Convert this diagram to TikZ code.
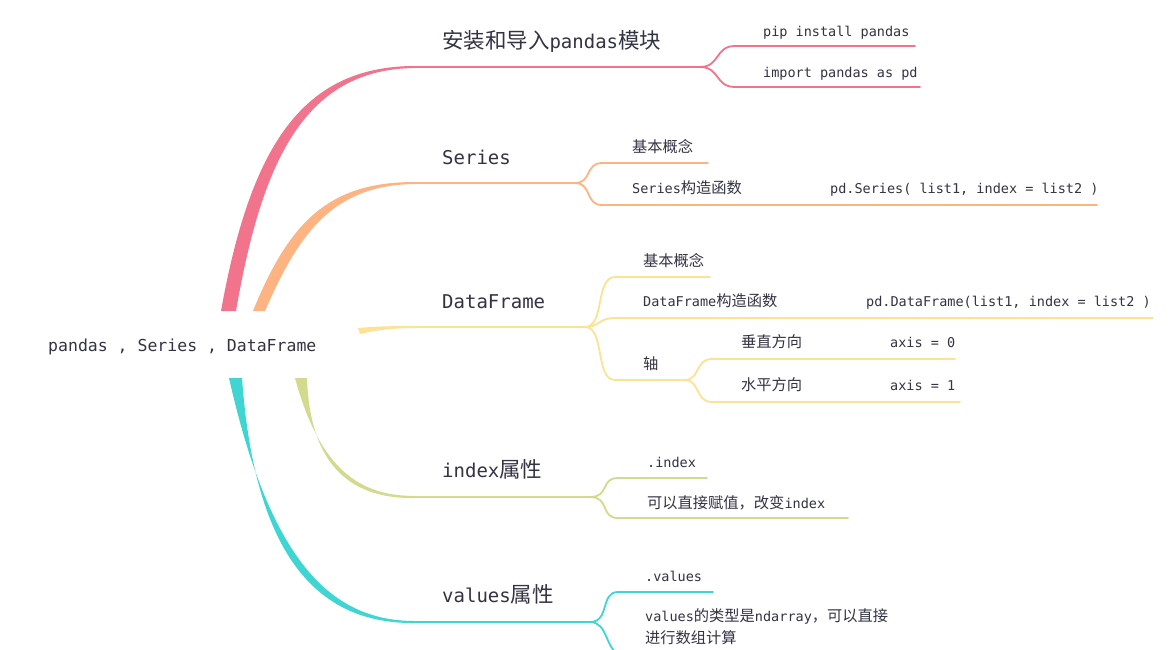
\documentclass[tikz,border=0pt]{standalone}
\usepackage{fontspec}
\setmainfont{DejaVu Sans Mono}
\newfontfamily\cjk{Noto Sans CJK SC}[Scale=1.13]
\definecolor{cpink}{HTML}{F2738C}
\definecolor{corange}{HTML}{FDB482}
\definecolor{cyellow}{HTML}{FDE294}
\definecolor{colive}{HTML}{D3DA8E}
\definecolor{cteal}{HTML}{3FD5D3}
\definecolor{ctext}{HTML}{333344}
\begin{document}
\begin{tikzpicture}[x=1pt,y=-1pt,
  lab/.style={anchor=base west,inner sep=0pt,text=ctext},
  big/.style={lab,font=\fontsize{19}{20}\selectfont},
  small/.style={lab,font=\fontsize{13.5}{16}\selectfont},
  sub/.style={line width=1.8pt,line cap=round}]
\useasboundingbox (0,0) rectangle (1170,649);
\fill[white] (0,0) rectangle (1170,649);
\node[lab,font=\fontsize{16.5}{18}\selectfont] (root) at (48,351) {pandas , Series , DataFrame};
\fill[cpink] (221,311) .. controls (250,150) and (300,66) .. (415,66) -- (415,68) .. controls (305,69) and (262,160) .. (236,311) -- cycle;
\fill[corange] (253,311) .. controls (290,220) and (330,182) .. (415,182) -- (415,184) .. controls (335,185) and (300,230) .. (265,311) -- cycle;
\fill[cyellow] (358,328) .. controls (380,326) and (400,326) .. (415,326) -- (415,328) .. controls (400,328) and (380,329) .. (360,334) -- cycle;
\fill[colive] (295,378) .. controls (320,470) and (360,496) .. (415,496) -- (415,498) .. controls (355,499) and (310,470) .. (307,378) -- cycle;
\fill[cteal] (229,378) .. controls (270,560) and (330,621) .. (415,621) -- (415,623) .. controls (320,624) and (255,560) .. (242,378) -- cycle;
\coordinate (p0) at (415,67); \coordinate (p1) at (700,67);
\draw[cpink,sub] (p0)--(p1);
\draw[cpink,sub] (p1) .. controls (720,67) and (715,46) .. (735,46) -- (915,46);
\draw[cpink,sub] (p1) .. controls (720,67) and (715,87) .. (735,87) -- (920,87);
\node[big] (t1) at (442,48) {{\cjk 安装和导入}pandas{\cjk 模块}};
\node[small] (t11) at (763,36) {pip install pandas};
\node[small] (t12) at (763,77) {import pandas as pd};
\coordinate (o0) at (415,183); \coordinate (o1) at (575,183);
\draw[corange,sub] (o0)--(o1);
\draw[corange,sub] (o1) .. controls (592,183) and (585,163) .. (602,163) -- (708,163);
\draw[corange,sub] (o1) .. controls (592,183) and (585,205) .. (602,205) -- (1097,205);
\node[big] (t2) at (442,164) {Series};
\node[small] (t21) at (632,152) {\cjk 基本概念};
\node[small] (t22) at (632,193) {Series{\cjk 构造函数}};
\node[small] (t23) at (830,193) {pd.Series( list1, index = list2 )};
\coordinate (y0) at (415,327); \coordinate (y1) at (585,327);
\draw[cyellow,sub] (y0)--(y1);
\draw[cyellow,sub] (y1) .. controls (605,327) and (595,277) .. (615,277) -- (710,277);
\draw[cyellow,sub] (y1) .. controls (600,327) and (598,318) .. (615,318) -- (1153,318);
\draw[cyellow,sub] (y1) .. controls (605,327) and (595,380) .. (615,380) -- (685,380);
\coordinate (y2) at (685,380);
\draw[cyellow,sub] (y2) .. controls (700,380) and (695,359) .. (712,359) -- (955,359);
\draw[cyellow,sub] (y2) .. controls (700,380) and (695,402) .. (712,402) -- (960,402);
\node[big] (t3) at (442,308) {DataFrame};
\node[small] (t31) at (643,266) {\cjk 基本概念};
\node[small] (t32) at (643,306) {DataFrame{\cjk 构造函数}};
\node[small] (t33) at (866,306) {pd.DataFrame(list1, index = list2 )};
\node[small] (t34) at (643,369) {\cjk 轴};
\node[small] (t35) at (741,347) {\cjk 垂直方向};
\node[small] (t36) at (890,347) {axis = 0};
\node[small] (t37) at (741,390) {\cjk 水平方向};
\node[small] (t38) at (890,390) {axis = 1};
\coordinate (g0) at (415,497); \coordinate (g1) at (590,497);
\draw[colive,sub] (g0)--(g1);
\draw[colive,sub] (g1) .. controls (610,497) and (600,478) .. (618,478) -- (707,478);
\draw[colive,sub] (g1) .. controls (610,497) and (600,518) .. (618,518) -- (848,518);
\node[big] (t4) at (442,477) {index{\cjk 属性}};
\node[small] (t41) at (647,467) {.index};
\node[small] (t42) at (647,508) {{\cjk 可以直接赋值，改变}index};
\coordinate (c0) at (415,622); \coordinate (c1) at (590,622);
\draw[cteal,sub] (c0)--(c1);
\draw[cteal,sub] (c1) .. controls (610,622) and (600,592) .. (618,592) -- (713,592);
\draw[cteal,sub] (c1) .. controls (608,622) and (605,649) .. (620,655);
\node[big] (t5) at (442,602) {values{\cjk 属性}};
\node[small] (t51) at (645,581) {.values};
\node[small] (t52) at (645,621) {values{\cjk 的类型是}ndarray{\cjk ，可以直接}};
\node[small] (t53) at (645,643) {\cjk 进行数组计算};
\end{tikzpicture}
\end{document}
